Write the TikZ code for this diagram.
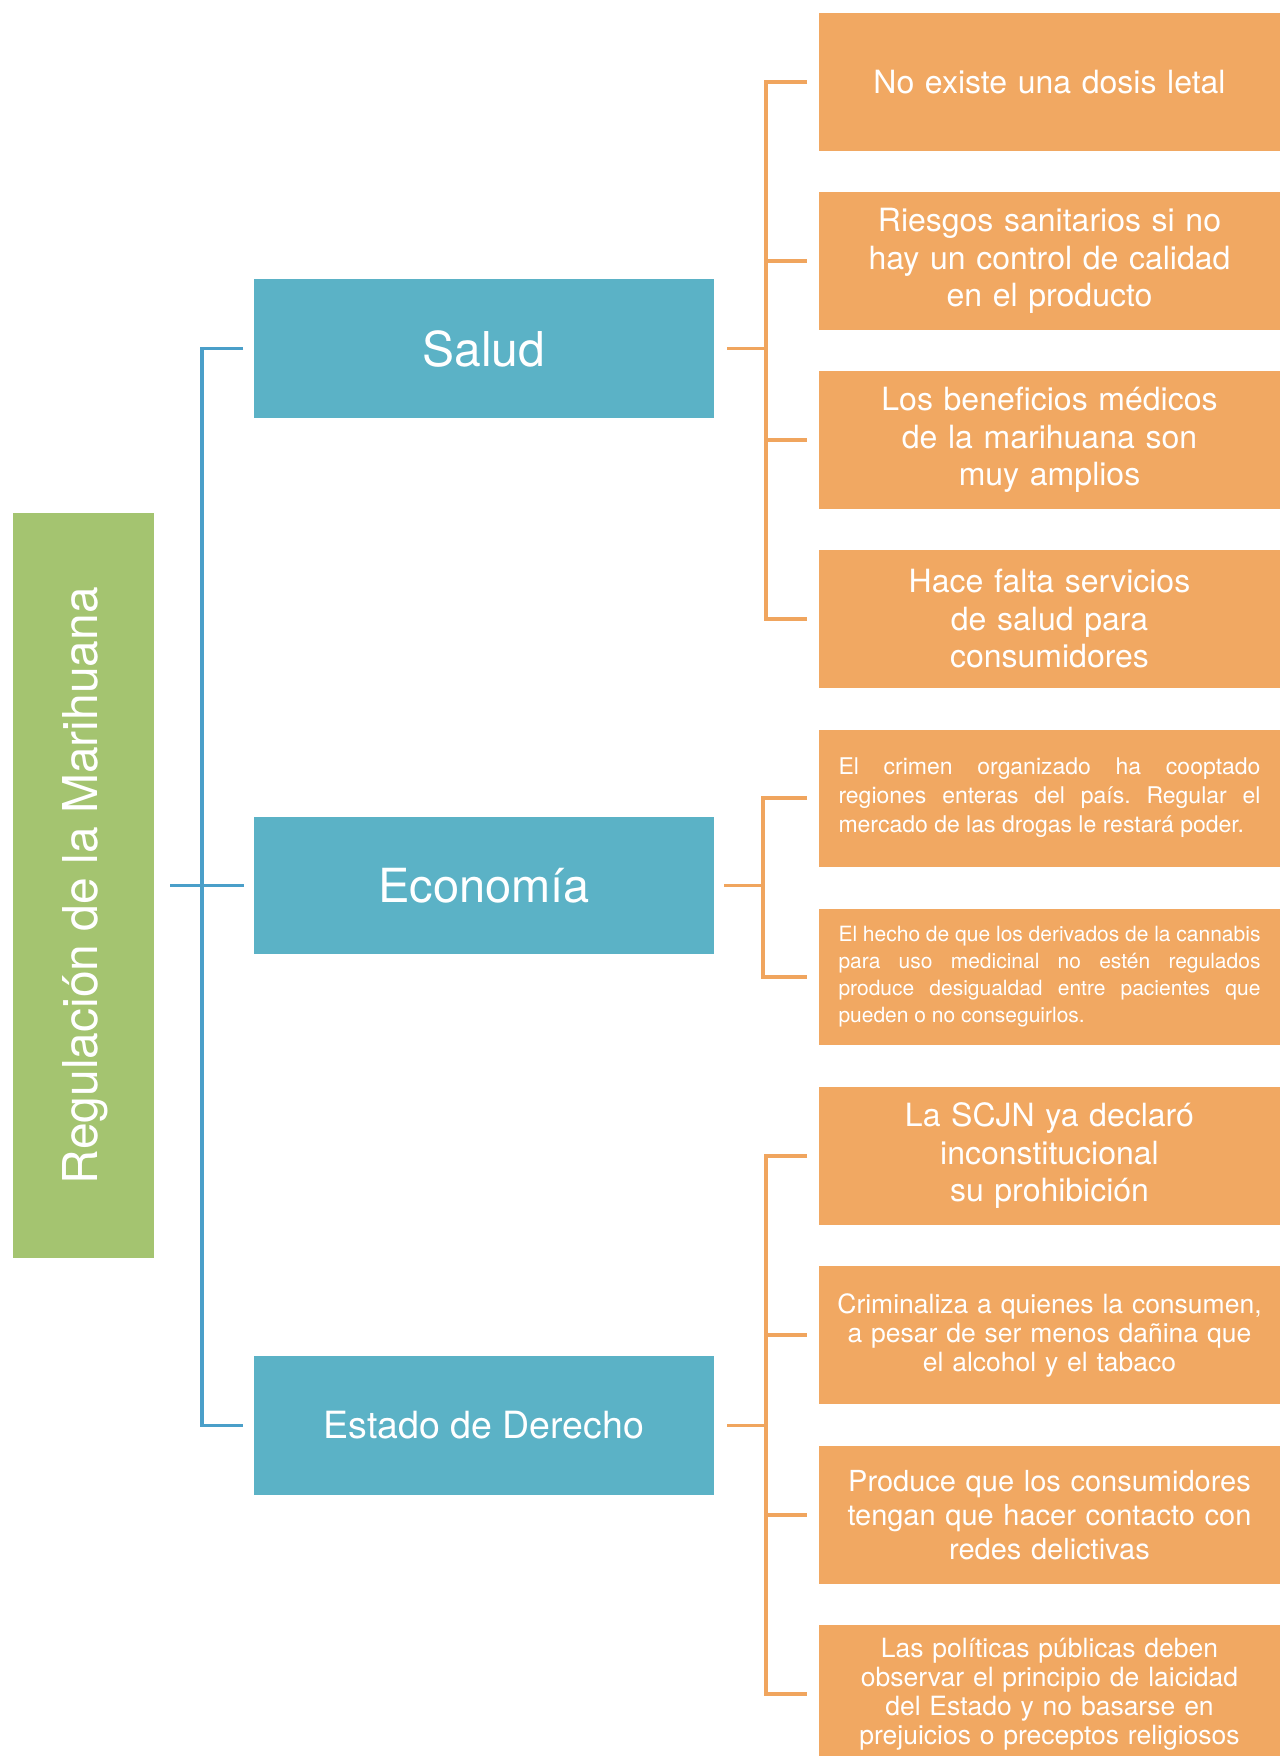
\documentclass[tikz,border=0pt]{standalone}
\usepackage{fontspec}
\setmainfont{TeX Gyre Heros}
\usetikzlibrary{calc}
\frenchspacing
\definecolor{greenbox}{HTML}{A4C470}
\definecolor{bluebox}{HTML}{5BB2C6}
\definecolor{orangebox}{HTML}{F1A862}
\definecolor{blueline}{HTML}{4A9FC9}
\definecolor{orangeline}{HTML}{F0A55E}
\begin{document}
\begin{tikzpicture}[x=1pt,y=-1pt,
  rootbox/.style={fill=greenbox, draw=none, inner sep=0pt, outer sep=0pt, minimum width=141pt, minimum height=745pt},
  roottext/.style={text=white, font=\fontsize{48}{56}\selectfont, inner sep=0pt},
  catbox/.style={fill=bluebox, draw=none, inner sep=0pt, outer sep=0pt, minimum width=460pt, minimum height=139pt, text=white},
  leafbox/.style={fill=orangebox, draw=none, inner sep=0pt, outer sep=0pt, minimum width=461pt, minimum height=138pt, text=white, align=center, text width=450pt},
  jbox/.style={leafbox, align=justify, text width=422pt},
  bline/.style={draw=blueline, line width=3.5pt},
  oline/.style={draw=orangeline, line width=3.5pt}
]
\useasboundingbox (0,0) rectangle (1284,1756);
\clip (0,0) rectangle (1284,1756);
\fill[white] (0,0) rectangle (1284,1756);

% root
\node[rootbox] (root) at (83.5,885.5) {};
\node[roottext, rotate=90] (roottxt) at ([xshift=2pt]root.center) {\frenchspacing Regulación de la Marihuana};

% categories
\node[catbox, font=\fontsize{48}{56}\selectfont] (salud) at (484,348.5) {Salud};
\node[catbox, minimum height=137pt, font=\fontsize{47}{55}\selectfont] (econ) at (484,885.5) {Economía};
\node[catbox, font=\fontsize{37.5}{44}\selectfont] (estado) at (484,1425.5) {Estado de Derecho};

% Salud leaves
\node[leafbox, font=\fontsize{32}{37.5}\selectfont] (s1) at (1049.5,82) {No existe una dosis letal};
\node[leafbox, font=\fontsize{32}{37.5}\selectfont] (s2) at (1049.5,261) {Riesgos sanitarios si no\\hay un control de calidad\\en el producto};
\node[leafbox, font=\fontsize{32}{37.5}\selectfont] (s3) at (1049.5,440) {Los beneficios médicos\\de la marihuana son\\muy amplios};
\node[leafbox, font=\fontsize{32}{37.5}\selectfont] (s4) at (1049.5,619) {Hace falta servicios\\de salud para\\consumidores};

% Economia leaves
\node[jbox, minimum height=137pt, font=\fontsize{23}{29}\selectfont\frenchspacing] (e1) at (1049.5,798) {El crimen organizado ha cooptado\linebreak regiones enteras del país. Regular el\linebreak mercado de las drogas le restará poder.};
\node[jbox, minimum height=136pt, font=\fontsize{21}{27}\selectfont\frenchspacing] (e2) at (1049.5,977) {El hecho de que los derivados de la cannabis\linebreak para uso medicinal no estén regulados\linebreak produce desigualdad entre pacientes que\linebreak pueden o no conseguirlos.};

% Estado leaves
\node[leafbox, font=\fontsize{32}{37.5}\selectfont] (d1) at (1049.5,1156) {La SCJN ya declaró\\inconstitucional\\su prohibición};
\node[leafbox, font=\fontsize{26.5}{29}\selectfont] (d2) at (1049.5,1335) {Criminaliza a quienes la consumen,\\a pesar de ser menos dañina que\\el alcohol y el tabaco};
\node[leafbox, font=\fontsize{29}{34}\selectfont] (d3) at (1049.5,1515) {Produce que los consumidores\\tengan que hacer contacto con\\redes delictivas};
\node[leafbox, font=\fontsize{26.5}{29}\selectfont] (d4) at (1049.5,1694) {Las políticas públicas deben\\observar el principio de laicidad\\del Estado y no basarse en\\prejuicios o preceptos religiosos};

% blue connectors
\coordinate (bb) at (202,885.5);
\draw[bline] ([xshift=-11pt]salud.west) -- (bb |- salud) -- (bb |- estado) -- ([xshift=-11pt]estado.west);
\draw[bline] ([xshift=16pt]root.east) -- ([xshift=-10pt]econ.west);

% orange connectors: Salud
\coordinate (sb) at ($(salud.east)+(52,0)$);
\draw[oline] ([xshift=13pt]salud.east) -- (sb);
\draw[oline] ([xshift=-12pt]s1.west) -- (sb |- s1) -- (sb |- s4) -- ([xshift=-12pt]s4.west);
\draw[oline] (sb |- s2) -- ([xshift=-12pt]s2.west);
\draw[oline] (sb |- s3) -- ([xshift=-12pt]s3.west);

% orange connectors: Economia
\coordinate (eb) at ($(econ.east)+(49,0)$);
\draw[oline] ([xshift=10pt]econ.east) -- (eb);
\draw[oline] ([xshift=-12pt]e1.west) -- (eb |- e1) -- (eb |- e2) -- ([xshift=-12pt]e2.west);

% orange connectors: Estado
\coordinate (db) at ($(estado.east)+(52,0)$);
\draw[oline] ([xshift=13pt]estado.east) -- (db);
\draw[oline] ([xshift=-12pt]d1.west) -- (db |- d1) -- (db |- d4) -- ([xshift=-12pt]d4.west);
\draw[oline] (db |- d2) -- ([xshift=-12pt]d2.west);
\draw[oline] (db |- d3) -- ([xshift=-12pt]d3.west);
\end{tikzpicture}
\end{document}
